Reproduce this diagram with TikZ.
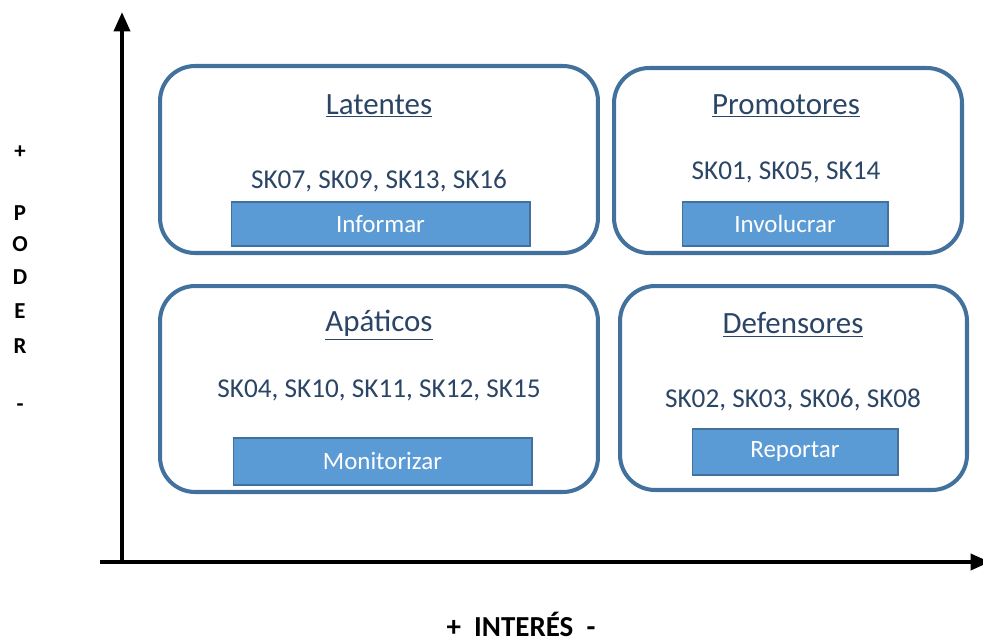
\documentclass[tikz,border=0pt]{standalone}
\usepackage{fontspec}
\setmainfont{Carlito}
\usetikzlibrary{arrows.meta}

\definecolor{borde}{HTML}{41719C}
\definecolor{relleno}{HTML}{5B9BD5}
\definecolor{texto}{HTML}{2B4566}

\tikzset{
    cuadro/.style={draw=borde, line width=2.3pt, rounded corners=0.7cm, fill=white},
    boton/.style={draw=borde, line width=0.6pt, fill=relleno, text=white,
        font=\fontsize{14.2}{16}\selectfont, inner sep=0pt},
    titulo/.style={text=texto, font=\fontsize{17.6}{20}\selectfont},
    lista/.style={text=texto, font=\fontsize{15.5}{18}\selectfont},
    eje/.style={line width=2.3pt, -{Triangle[length=11pt, width=9pt]}},
    letra/.style={font=\fontsize{13}{15}\selectfont\bfseries}
}

\begin{document}
\begin{tikzpicture}[x=0.02cm, y=-0.02cm]
    \useasboundingbox (0,0) rectangle (983,642);

    % Ejes
    \coordinate (origen) at (122,562);
    \coordinate (ytope) at (122,12);
    \coordinate (xini) at (100,562);
    \coordinate (xtope) at (990,562);
    \draw[eje] (origen) -- (ytope);
    \draw[eje] (xini) -- (xtope);

    % Etiquetas de los ejes
    \node[letra] (ymas) at (20,152) {+};
    \foreach \l/\y in {P/213,O/244,D/277,E/311,R/346} {
        \node[letra] (y\l) at (20,\y) {\l};
    }
    \node[letra] (ymenos) at (20,408) {-};
    \node[font=\fontsize{16.5}{19}\selectfont\bfseries, inner sep=0pt] (interes) at (521,624) {+\ \ INTERÉS\ \ -};

    % Cuadrantes
    \node[cuadro, minimum width=8.76cm, minimum height=3.74cm] (latentes) at (379,159.5) {};
    \node[cuadro, minimum width=6.96cm, minimum height=3.70cm] (promotores) at (788,160.5) {};
    \node[cuadro, minimum width=8.76cm, minimum height=4.12cm] (apaticos) at (379,389) {};
    \node[cuadro, minimum width=6.94cm, minimum height=4.08cm] (defensores) at (793.5,388) {};

    % Titulos
    \node[titulo] (tlatentes) at (379,106) {\underline{Latentes}};
    \node[titulo] (tpromotores) at (786,106) {\underline{Promotores}};
    \node[titulo] (tapaticos) at (379,325) {\underline{Apáticos}};
    \node[titulo] (tdefensores) at (793,325) {\underline{Defensores}};

    % Interesados
    \node[lista] (slatentes) at (379,181) {SK07, SK09, SK13, SK16};
    \node[lista] (spromotores) at (786,172) {SK01, SK05, SK14};
    \node[lista] (sapaticos) at (379,390) {SK04, SK10, SK11, SK12, SK15};
    \node[lista] (sdefensores) at (793,400) {SK02, SK03, SK06, SK08};

    % Acciones
    \node[boton, minimum width=5.98cm, minimum height=0.88cm] (informar) at (380.5,224) {Informar};
    \node[boton, minimum width=4.12cm, minimum height=0.88cm] (involucrar) at (785,224) {Involucrar};
    \node[boton, minimum width=5.98cm, minimum height=0.94cm] (monitorizar) at (382.5,461.5) {Monitorizar};
    \node[boton, minimum width=4.12cm, minimum height=0.92cm] (reportar) at (795,452) {Reportar};
\end{tikzpicture}
\end{document}
